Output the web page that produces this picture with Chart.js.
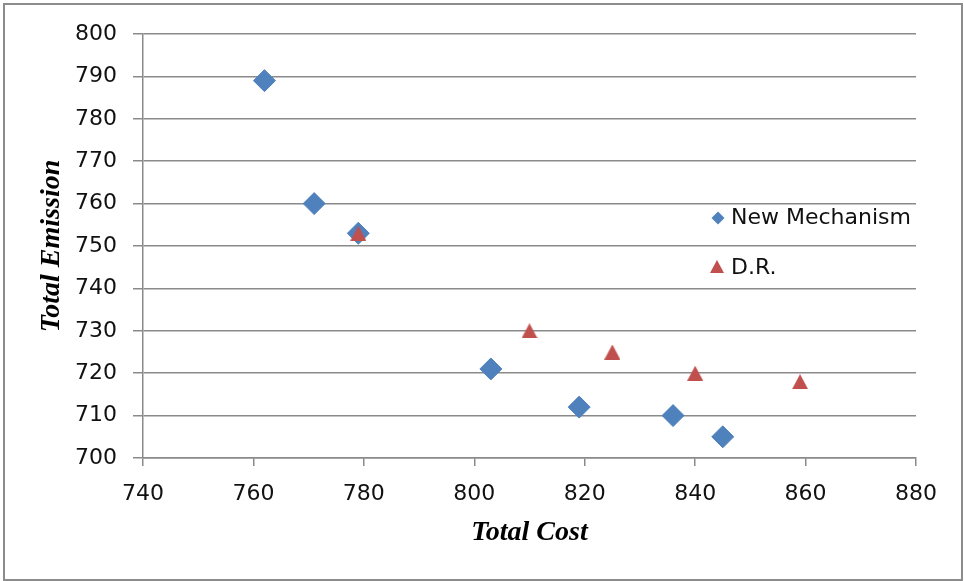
<!DOCTYPE html>
<html>
<head>
<meta charset="utf-8">
<script src="https://cdn.jsdelivr.net/npm/chart.js@4/dist/chart.umd.min.js"></script>
<style>
  html, body { margin: 0; padding: 0; background: #ffffff; }
  #wrap { width: 964px; height: 581px; }
</style>
</head>
<body>
<div id="wrap"><canvas id="chart" width="964" height="581"></canvas></div>
<script>
// Series: total cost (x) vs total emission (y)
const newMechCost     = [762, 771, 779, 803, 819, 836, 845];
const newMechEmission = [789, 760, 753, 721, 712, 710, 705];
const drCost          = [779, 810, 825, 840, 859];
const drEmission      = [753, 730, 725, 720, 718];

const seriesNames = ['New Mechanism', 'D.R.'];
const axisTitles  = { x: 'Total Cost', y: 'Total Emission' };
const xRange = [740, 880, 20];   // min, max, step
const yRange = [700, 800, 10];

const BLUE = '#4f81bd';
const RED  = '#c0504d';
const GRID = '#8a8a8a';
const TEXT = '#111111';

function toPoints(xs, ys) { return xs.map((x, i) => ({ x: x, y: ys[i] })); }

// Triangle marker centred on its bounding box
function triangleMarker(w, h, color) {
  const c = document.createElement('canvas');
  c.width = w; c.height = h;
  const g = c.getContext('2d');
  g.fillStyle = color;
  g.beginPath();
  g.moveTo(w / 2, 0);
  g.lineTo(w, h);
  g.lineTo(0, h);
  g.closePath();
  g.fill();
  return c;
}

// Outer frame around the whole chart
const framePlugin = {
  id: 'frame',
  afterDraw(chart) {
    const ctx = chart.ctx;
    ctx.save();
    ctx.strokeStyle = '#8c8c8c';
    ctx.lineWidth = 2;
    ctx.strokeRect(4, 4, 958, 576);
    ctx.restore();
  }
};

// Legend drawn inside the plot area on the right
const insideLegend = {
  id: 'insideLegend',
  afterDraw(chart) {
    const ctx = chart.ctx;
    ctx.save();
    ctx.font = '22px "DejaVu Sans"';
    ctx.textBaseline = 'middle';
    ctx.textAlign = 'left';
    // diamond
    const dx = 718, dy = 218, r = 6.5;
    ctx.fillStyle = BLUE;
    ctx.beginPath();
    ctx.moveTo(dx, dy - r); ctx.lineTo(dx + r, dy); ctx.lineTo(dx, dy + r); ctx.lineTo(dx - r, dy);
    ctx.closePath(); ctx.fill();
    ctx.fillStyle = TEXT;
    ctx.fillText(seriesNames[0], 731, 218);
    // triangle
    const tx = 717, ty = 267;
    ctx.fillStyle = RED;
    ctx.beginPath();
    ctx.moveTo(tx, ty - 7); ctx.lineTo(tx + 7, ty + 6); ctx.lineTo(tx - 7, ty + 6);
    ctx.closePath(); ctx.fill();
    ctx.fillStyle = TEXT;
    ctx.fillText(seriesNames[1], 731, 268);
    ctx.restore();
  }
};

Chart.defaults.font.family = '"DejaVu Sans"';
Chart.defaults.color = TEXT;

new Chart(document.getElementById('chart'), {
  type: 'scatter',
  data: {
    datasets: [
      {
        label: seriesNames[0],
        data: toPoints(newMechCost, newMechEmission),
        pointStyle: 'rectRot',
        pointRadius: 11,
        pointHoverRadius: 11,
        backgroundColor: BLUE,
        borderColor: BLUE,
        borderWidth: 1,
        order: 1
      },
      {
        label: seriesNames[1],
        data: toPoints(drCost, drEmission),
        pointStyle: triangleMarker(16, 15, RED),
        backgroundColor: RED,
        borderColor: RED,
        order: 0
      }
    ]
  },
  options: {
    responsive: false,
    animation: false,
    devicePixelRatio: 1,
    layout: { padding: { left: 5, top: 34, right: 48, bottom: 8 } },
    plugins: {
      legend: { display: false },
      tooltip: { enabled: false }
    },
    scales: {
      x: {
        type: 'linear',
        min: xRange[0], max: xRange[1],
        ticks: { stepSize: xRange[2], padding: 15, font: { size: 22 }, color: TEXT },
        grid: { drawOnChartArea: false, drawTicks: true, tickLength: 8, color: GRID, tickColor: GRID, lineWidth: 1.5 },
        border: { display: true, color: GRID, width: 1.5 },
        title: {
          display: true, text: axisTitles.x,
          font: { family: '"Liberation Serif"', size: 28, style: 'italic', weight: 'bold' },
          color: '#000000',
          padding: { top: 0, bottom: 23 }
        },
        afterFit(scale) { scale.height = 115; }
      },
      y: {
        type: 'linear',
        min: yRange[0], max: yRange[1],
        ticks: { stepSize: yRange[2], padding: 16, font: { size: 22 }, color: TEXT },
        grid: { drawOnChartArea: true, drawTicks: true, tickLength: 10, color: GRID, tickColor: GRID, lineWidth: 1.5 },
        border: { display: true, color: GRID, width: 1.5 },
        title: {
          display: true, text: axisTitles.y,
          font: { family: '"Liberation Serif"', size: 28, style: 'italic', weight: 'bold' },
          color: '#000000',
          padding: { top: 30, bottom: 0 }
        },
        afterFit(scale) { scale.width = 138; }
      }
    }
  },
  plugins: [framePlugin, insideLegend]
});
</script>
</body>
</html>
